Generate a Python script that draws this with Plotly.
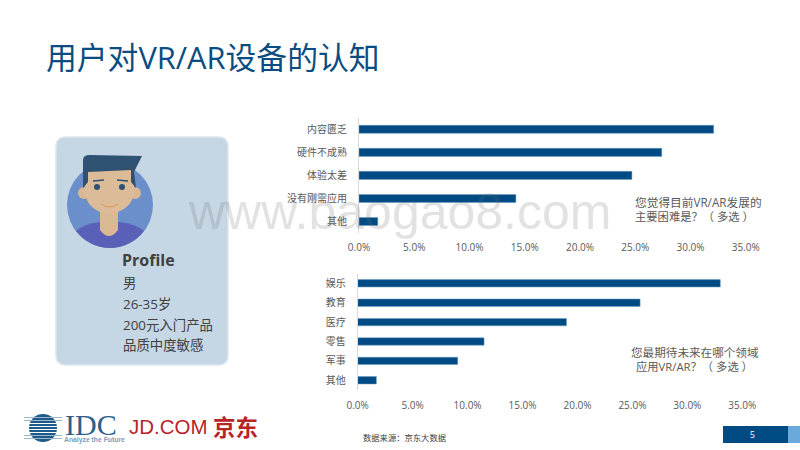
import re
import plotly.graph_objects as go
from plotly.subplots import make_subplots

W, H = 800, 450
BLUE = '#004b84'
GREY = '#595959'
CJK = 'Noto Sans CJK SC'
LATIN = 'Open Sans, Noto Sans CJK SC'

title = '用户对VR/AR设备的认知'

top_cats = ['内容匮乏', '硬件不成熟', '体验太差', '没有刚需应用', '其他']
top_vals = [32.1, 27.4, 24.7, 14.2, 1.7]
bot_cats = ['娱乐', '教育', '医疗', '零售', '军事', '其他']
bot_vals = [33.0, 25.7, 19.0, 11.5, 9.1, 1.7]
x_ticks = [0, 5, 10, 15, 20, 25, 30, 35]
x_labels = ['0.0%', '5.0%', '10.0%', '15.0%', '20.0%', '25.0%', '30.0%', '35.0%']

profile_lines = ['男', '26-35岁', '200元入门产品', '品质中度敏感']


def px(x, y):
    return x / W, 1 - y / H


def path(s):
    # path written in page pixels, turned into paper coordinates
    def conv(m):
        x, y = px(float(m.group(1)), float(m.group(2)))
        return f'{x:.5f},{y:.5f}'
    return re.sub(r'(-?[\d.]+),(-?[\d.]+)', conv, s)


fig = make_subplots(rows=2, cols=1)

fig.add_trace(go.Bar(x=top_vals, y=top_cats, orientation='h', marker=dict(color=BLUE, line=dict(color='#6f9cc0', width=0.5)),
                     width=0.35, showlegend=False), row=1, col=1)
fig.add_trace(go.Bar(x=bot_vals, y=bot_cats, orientation='h', marker=dict(color=BLUE, line=dict(color='#6f9cc0', width=0.5)),
                     width=0.38, showlegend=False), row=2, col=1)

axis_style = dict(showgrid=False, zeroline=False, tickmode='array', tickvals=x_ticks, ticktext=x_labels, automargin=False,
                  range=[0, 35], ticks='', tickfont=dict(family=LATIN, size=10, color=GREY), showline=False)
cat_style = dict(showgrid=False, zeroline=False, type='category', ticks='', showline=True, linecolor='#d9d9d9', linewidth=1,
                 automargin=False, tickfont=dict(family=CJK, size=10, color=GREY), ticklabelstandoff=9)

fig.update_xaxes(domain=[359 / W, 745.7 / W], ticklabelstandoff=7, **axis_style, row=1, col=1)
fig.update_xaxes(domain=[357.7 / W, 742.3 / W], ticklabelstandoff=8, **axis_style, row=2, col=1)
fig.update_yaxes(domain=[1 - 233 / H, 1 - 117.8 / H], range=[4.5, -0.5], **cat_style, row=1, col=1)
fig.update_yaxes(domain=[1 - 390 / H, 1 - 273.6 / H], range=[5.5, -0.5], **cat_style, row=2, col=1)

shapes = []


def rect(x0, y0, x1, y1, color):
    a, b = px(x0, y0)
    c, d = px(x1, y1)
    shapes.append(dict(type='rect', xref='paper', yref='paper', x0=a, y0=b, x1=c, y1=d,
                       fillcolor=color, line_width=0, layer='below'))


def circle(cx, cy, r, color):
    a, b = px(cx - r, cy - r)
    c, d = px(cx + r, cy + r)
    shapes.append(dict(type='circle', xref='paper', yref='paper', x0=a, y0=b, x1=c, y1=d,
                       fillcolor=color, line_width=0, layer='below'))


def blob(d, color=None, line=None, width=0):
    shapes.append(dict(type='path', xref='paper', yref='paper', path=path(d), fillcolor=color,
                       line=dict(color=line, width=width), layer='below'))


# profile card
blob('M66,137 L218,137 Q228,137 228,147 L228,355 Q228,365 218,365 L66,365 Q56,365 56,355 L56,147 Q56,137 66,137 Z',
     '#c5d6e4', '#dde6ee', 1.5)
# avatar
circle(110, 205, 43, '#6a8fcb')
blob('M76,231 Q84,224 100,222 L119,222 Q136,224 144,231 C136,241 124,248 110,248 C96,248 84,241 76,231 Z', '#5a60b8')
blob('M100,205 L118,205 L118,230 Q109,242 100,230 Z', '#dab893')
circle(84, 193, 6, '#dab893')
circle(135, 193, 6, '#dab893')
blob('M85,165 L134,165 L134,192 Q133,206 118,212 Q109,216 100,212 Q86,206 85,192 Z', '#dcbc98')
blob('M83,188 L83,160 Q83,155 90,155 L142,156 Q138,164 134,172 L136,188 L131,182 L131,170 L88,172 L88,182 Z', '#2f5272')
blob('M93,181 L104,180', None, '#2f5272', 1.5)
blob('M117,180 L128,181', None, '#2f5272', 1.5)
circle(97, 187, 3, '#2f5272')
circle(122, 187, 3, '#2f5272')
blob('M101,204 Q110,210 118,204', None, '#e0945c', 1)

# page number block
rect(723, 426, 788, 443, BLUE)
rect(788, 426, 800, 443, '#6aa9dc')

# IDC mark
circle(43, 428, 14, '#1c5a8c')
for ly in [417, 420, 423, 426, 429, 432, 435, 438]:
    rect(24, ly, 62, ly + 1, '#ffffff' if 421 < ly < 434 else '#9fb6c9')

fig.update_layout(shapes=shapes)

notes = [
    (46, 57, title, 30.8, '#0b4d82', LATIN, 'left'),
    (635, 202, '您觉得目前VR/AR发展的', 11.7, GREY, LATIN, 'left'),
    (635, 216, '主要困难是？（ 多选 ）', 11.3, GREY, LATIN, 'left'),
    (631, 352, '您最期待未来在哪个领域', 11.6, GREY, LATIN, 'left'),
    (636, 366, '应用VR/AR？（ 多选 ）', 11.3, GREY, LATIN, 'left'),
    (122, 260, '<b>Profile</b>', 16, '#404040', 'Open Sans', 'left'),
    (363, 437, '数据来源：京东大数据', 8.3, '#404040', CJK, 'left'),
    (752, 434, '5', 8.5, '#ffffff', 'Open Sans', 'center'),
    (65, 424, 'IDC', 30, '#2c5f8a', 'Liberation Serif', 'left'),
    (64, 440, '<b>Analyze the Future</b>', 6.8, '#7b9cbb', 'Liberation Sans', 'left'),
    (129, 426, 'JD.COM', 20.5, '#b8242a', 'Liberation Sans', 'left'),
    (213, 426, '<b>京东</b>', 22.5, '#b8242a', CJK, 'left'),
    (188, 212, 'www.baogao8.com', 50, 'rgba(110,110,110,0.2)', 'Liberation Sans', 'left'),
]
for ly, line in zip([283, 304, 325, 345], profile_lines):
    notes.append((123, ly, line, 13.4, '#404040', LATIN, 'left'))

for x, y, text, size, color, family, align in notes:
    ax, ay = px(x, y)
    fig.add_annotation(x=ax, y=ay, xref='paper', yref='paper', text=text, showarrow=False,
                       xanchor=align, yanchor='middle',
                       font=dict(family=family, size=size, color=color), borderpad=0, borderwidth=0)

fig.update_layout(width=W, height=H, margin=dict(l=0, r=0, t=0, b=0, pad=0, autoexpand=False), paper_bgcolor='white',
                  plot_bgcolor='rgba(0,0,0,0)', showlegend=False, bargap=0.65)
fig.write_html('out.html', post_script="document.body.style.margin='0';", config=dict(displayModeBar=False))
